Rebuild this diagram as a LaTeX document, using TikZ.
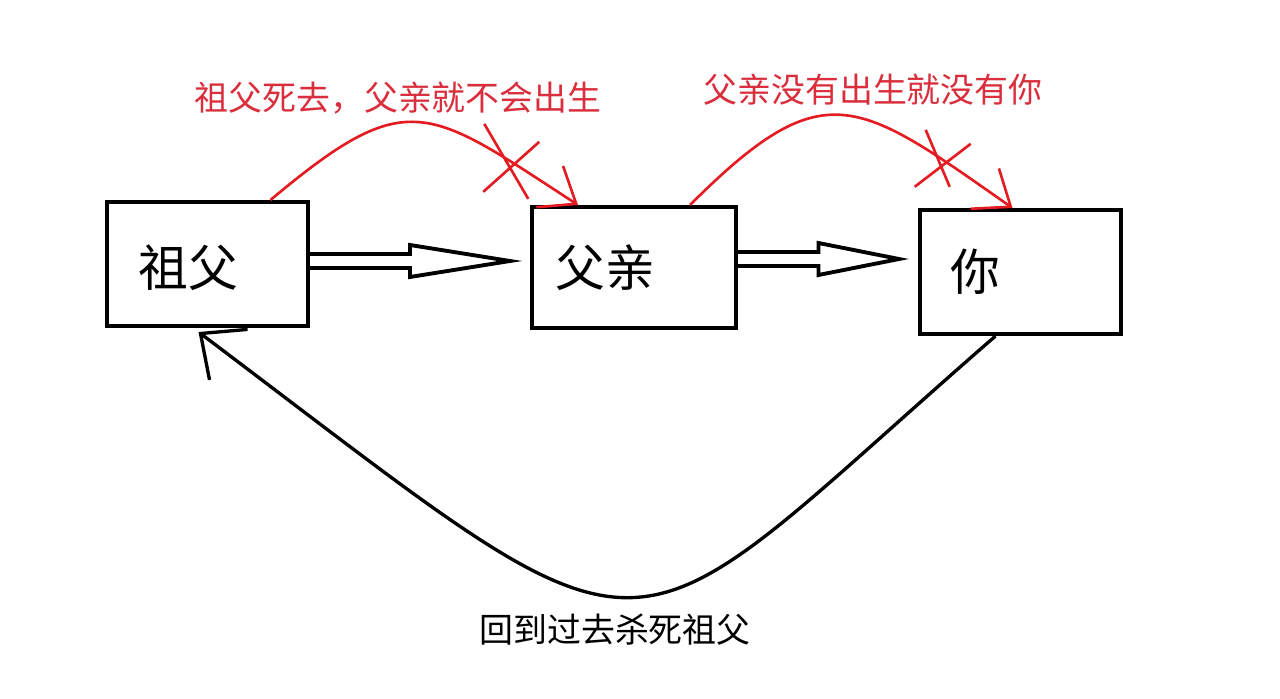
\documentclass[tikz,border=0pt]{standalone}
\usepackage{fontspec}
\setmainfont{Noto Sans CJK SC}
\usetikzlibrary{calc,arrows.meta}
\definecolor{penred}{RGB}{228,28,34}
\definecolor{inkred}{RGB}{218,46,60}
\tikzset{
	box/.style={draw, line width=2.3pt, inner sep=0pt},
	boxtext/.style={font=\fontsize{28.3}{30}\selectfont},
	redtext/.style={text=inkred, font=\fontsize{19.3}{22}\selectfont},
	blacktext/.style={font=\fontsize{19.3}{22}\selectfont},
	redarc/.style={draw=penred, line width=1.5pt, -{Straight Barb[length=18pt,width=28pt]}},
	crossline/.style={draw=penred, line width=1.5pt},
	backarc/.style={draw, line width=1.9pt, -{Straight Barb[length=20pt,width=36pt]}},
	hollow/.style={draw, line width=2.2pt, line join=miter},
}
\newcommand\hollowarrow[2]{\draw[hollow] ($(#1)+(0,7)$) -- ($(#1)!.5!(#2)+(0,7)$) -- ($(#1)!.5!(#2)+(0,16)$) -- (#2) -- ($(#1)!.5!(#2)+(0,-16)$) -- ($(#1)!.5!(#2)+(0,-7)$) -- ($(#1)+(0,-7)$);}

\begin{document}
\begin{tikzpicture}[x=0.02cm, y=0.02cm]
			%%%%% START %%%%%
			\useasboundingbox (0,0) rectangle (1280,698);
			
			% boxes
			\node[box, minimum width=4.02cm, minimum height=2.48cm] (gf) at (207.5,434) {};
			\node[box, minimum width=4.08cm, minimum height=2.42cm] (fa) at (634,430.5) {};
			\node[box, minimum width=4.02cm, minimum height=2.48cm] (ni) at (1020.5,426) {};
			
			\node[boxtext] (gft) at (188,430) {祖父};
			\node[boxtext] (fat) at (605,430) {父亲};
			\node[boxtext] (nit) at (975,426) {你};
			
			% hollow arrows
			\coordinate (h1) at ($(fa.west)+(-20,6.5)$);
			\coordinate (s1) at (gf.east |- h1);
			\hollowarrow{s1}{h1}
			\coordinate (h2) at ($(ni.west)+(-19,13)$);
			\coordinate (s2) at (fa.east |- h2);
			\hollowarrow{s2}{h2}
			
			% red arcs and crosses
			\draw[redarc] ($(gf.north)+(63,0)$) .. controls +(40:180) and +(147:180) .. ($(fa.north)+(-56,0)$) coordinate[pos=.83] (x1);
			\draw[crossline] ($(x1)+(-27,38)$) -- ($(x1)+(17,-37)$) ($(x1)+(28,20)$) -- ($(x1)+(-28,-30)$);
			
			\draw[redarc] ($(fa.north)+(56,0)$) .. controls +(45:190) and +(145:190) .. ($(ni.north)+(-8,0)$) coordinate[pos=.83] (x2);
			\draw[crossline] ($(x2)+(-17,30)$) -- ($(x2)+(7,-27)$) ($(x2)+(28,16)$) -- ($(x2)+(-28,-27)$);
			
			\node[redtext] (l1) at (398,600) {祖父死去，父亲就不会出生};
			\node[redtext] (l2) at (873,608) {父亲没有出生就没有你};
			
			% back in time
			\draw[backarc] ($(ni.south)+(-25,0)$) .. controls +(221:520) and +(323:600) .. ($(gf.south)+(-9,-4)$);
			\node[blacktext] (l3) at (615,68) {回到过去杀死祖父};
			
			%%%%% END %%%%%
\end{tikzpicture}
\end{document}
